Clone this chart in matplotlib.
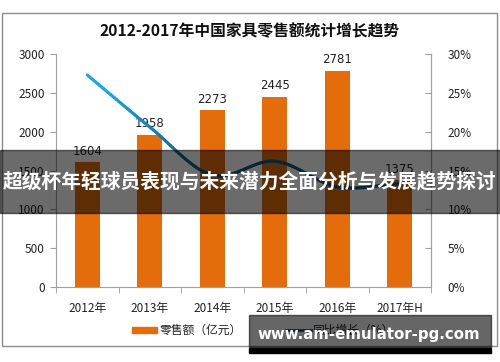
import numpy as np
import matplotlib
matplotlib.use("Agg")
import matplotlib.pyplot as plt
from matplotlib.collections import LineCollection
from matplotlib.patches import Rectangle
from matplotlib.lines import Line2D
from matplotlib.colors import to_rgb

plt.rcParams['font.family'] = ['Noto Sans CJK SC', 'DejaVu Sans']

categories = ["2012年", "2013年", "2014年", "2015年", "2016年", "2017年H"]
sales = [1604, 1958, 2273, 2445, 2781, 1375]
growth = [27.3, 20.6, 14.4, 16.2, 12.9, 13.3]
title = "2012-2017年中国家具零售额统计增长趋势"
banner = "超级杯年轻球员表现与未来潜力全面分析与发展趋势探讨"
site = "www.am-emulator-pg.com"

W, H = 500, 362
fig = plt.figure(figsize=(W/100, H/100), dpi=100)
fig.patch.set_facecolor("white")

def fx(px): return px / W
def fy(py): return 1 - py / H

# figure frame
fig.patches.append(Rectangle((fx(2), fy(346)), fx(497) - fx(2), fy(13) - fy(346),
                             transform=fig.transFigure, fill=False, ec="#8c8c8c", lw=1.0))

ax = fig.add_axes([fx(56), fy(287), fx(431) - fx(56), fy(54) - fy(287)])
x = np.arange(len(categories))
bar_color = "#E46C0A"
ax.bar(x, sales, width=0.4, color=bar_color, zorder=2)
for xi, v in zip(x, sales):
    ax.text(xi, v + 60, str(v), ha="center", va="bottom", fontsize=8.5,
            family=["DejaVu Sans"], color="#222222")
ax.set_xlim(-0.5, len(categories) - 0.5)
ax.set_ylim(0, 3000)
ax.set_yticks(np.arange(0, 3001, 500))
ax.set_xticks(x)
ax.set_xticklabels(categories, fontsize=8.5, color="#222222")
ax.set_xticks(np.arange(-0.5, len(categories), 1), minor=True)
ax.tick_params(axis="x", which="major", length=0, pad=11)
ax.tick_params(axis="x", which="minor", length=4, color="#a0a0a0", direction="out")
ax.tick_params(axis="y", length=4, color="#a0a0a0", labelsize=8.5, labelcolor="#222222", pad=4)
ax.spines["top"].set_visible(False)
for s in ["left", "bottom", "right"]:
    ax.spines[s].set_color("#a0a0a0")

ax2 = ax.twinx()
ax2.set_ylim(0, 30)
ax2.set_yticks(np.arange(0, 31, 5))
ax2.set_yticklabels([f"{v}%" for v in range(0, 31, 5)])
ax2.tick_params(axis="y", length=4, direction="in", color="#a0a0a0", labelsize=8.5,
                labelcolor="#222222", pad=12)
for s in ["top", "left", "bottom"]:
    ax2.spines[s].set_visible(False)
ax2.spines["right"].set_color("#a0a0a0")

# smooth (Catmull-Rom) rendering through the data points
xs = x.astype(float); ys = np.array(growth, float)
pts = []
P = np.column_stack([xs, ys])
Pe = np.vstack([2 * P[0] - P[1], P, 2 * P[-1] - P[-2]])
for i in range(1, len(Pe) - 2):
    p0, p1, p2, p3 = Pe[i - 1], Pe[i], Pe[i + 1], Pe[i + 2]
    for t in np.linspace(0, 1, 30, endpoint=False):
        t2, t3 = t * t, t * t * t
        pts.append(0.5 * ((2 * p1) + (-p0 + p2) * t + (2 * p0 - 5 * p1 + 4 * p2 - p3) * t2
                          + (-p0 + 3 * p1 - 3 * p2 + p3) * t3))
pts.append(P[-1])
pts = np.array(pts)
segs = np.stack([pts[:-1], pts[1:]], axis=1)
c1 = np.array(to_rgb("#1aa7e3")); c2 = np.array(to_rgb("#0c5f7c"))
frac = np.clip((pts[:-1, 0] - 0.3) / 1.5, 0, 1)
cols = [c1 * (1 - f) + c2 * f for f in frac]
lc = LineCollection(segs, colors=cols, linewidths=2.2, zorder=3, capstyle="round")
ax2.add_collection(lc)

fig.text(0.5, fy(31), title, ha="center", va="center", fontsize=11.3, fontweight="bold", color="#111111")

# legend
fig.patches.append(Rectangle((fx(132), fy(333)), fx(25), fy(327) - fy(333),
                             transform=fig.transFigure, color=bar_color))
fig.text(fx(160), fy(330), "零售额（亿元）", ha="left", va="center", fontsize=8.5, color="#222222")
fig.add_artist(Line2D([fx(286), fx(311)], [fy(330), fy(330)], transform=fig.transFigure,
                      color="#0c5f7c", lw=2, zorder=5))
fig.text(fx(313), fy(330), "同比增长（%）", ha="left", va="center", fontsize=8.5, color="#222222")

# overlay banner
fig.patches.append(Rectangle((0, fy(213)), 1, fy(150) - fy(213), transform=fig.transFigure,
                             color="black", alpha=0.58, zorder=10))
fig.text(0.5, fy(181), banner, ha="center", va="center", fontsize=14.2, fontweight="bold",
         color="white", zorder=11)

# site banner
fig.patches.append(Rectangle((fx(249), fy(347)), fx(491) - fx(249), fy(315) - fy(347),
                             transform=fig.transFigure, color="black", alpha=0.6, zorder=10))
fig.patches.append(Rectangle((fx(249), fy(353)), fx(491) - fx(249), fy(348) - fy(353),
                             transform=fig.transFigure, color="black", zorder=10))
fig.text(fx(369), fy(334), site, ha="center", va="center", fontsize=10.8, fontweight="bold",
         color="white", zorder=11, family=["DejaVu Sans"])

fig.savefig("out.png", dpi=100)
